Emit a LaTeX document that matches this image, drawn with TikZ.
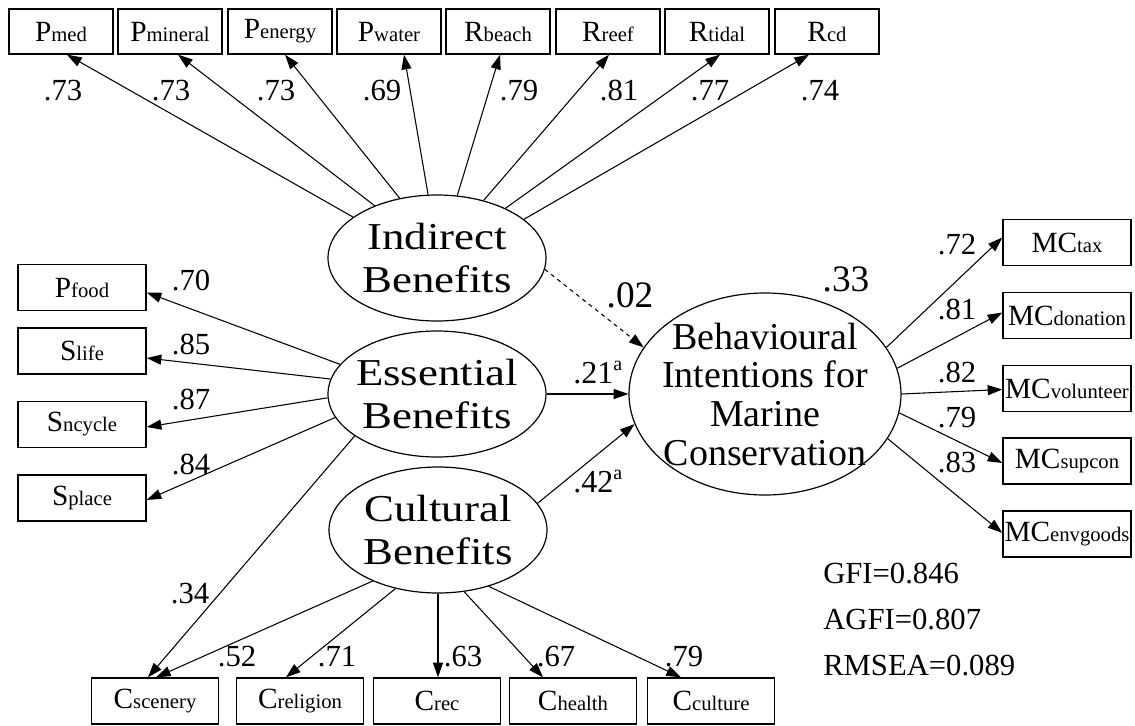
\documentclass[tikz,border=0pt]{standalone}
\usepackage{fontspec}
\setmainfont{Liberation Serif}
\newfontfamily\wideserif[FakeStretch=1.18]{Liberation Serif}
\usetikzlibrary{arrows.meta,calc,shapes.geometric}
\newcommand{\vlab}[2]{{\fontsize{22}{22}\selectfont #1}{\fontsize{15.5}{15.5}\selectfont #2}}
\begin{document}
\begin{tikzpicture}[x=0.75pt,y=-0.75pt,
  obsbox/.style={draw, line width=1pt, inner sep=0pt, minimum width=78pt, minimum height=33.75pt},
  sidebox/.style={obsbox, minimum width=96pt, minimum height=34.5pt},
  latent/.style={draw, ellipse, line width=0.9pt, inner sep=0pt, minimum width=163.5pt, minimum height=94.5pt},
  lattext/.style={align=center, inner sep=0pt, font=\wideserif\fontsize{28.5}{32.5}\selectfont},
  conn/.style={-{Triangle[length=11pt,width=7.5pt]}, line width=0.8pt},
  num/.style={inner sep=0pt, font=\fontsize{23}{23}\selectfont},
  bignum/.style={inner sep=0pt, font=\fontsize{28}{28}\selectfont},
  fitidx/.style={anchor=base west, inner sep=0pt, font=\fontsize{23}{23}\selectfont}]
\useasboundingbox (0,0) rectangle (1135,725);

% top indicators
\node[obsbox] (pmed) at (61,31.5) {\vlab{P}{med}};
\node[obsbox] (pmin) at (170,31.5) {\vlab{P}{mineral}};
\node[obsbox] (pen) at (280,31.5) {\vlab{P}{energy}};
\node[obsbox] (pwa) at (389,31.5) {\vlab{P}{water}};
\node[obsbox] (rbe) at (498,31.5) {\vlab{R}{beach}};
\node[obsbox] (rre) at (608,31.5) {\vlab{R}{reef}};
\node[obsbox] (rti) at (717,31.5) {\vlab{R}{tidal}};
\node[obsbox] (rcd) at (827,31.5) {\vlab{R}{cd}};

% left indicators
\node[sidebox] (pfo) at (82,287.5) {\vlab{P}{food}};
\node[sidebox] (sli) at (82,351) {\vlab{S}{life}};
\node[sidebox] (snc) at (82,424.5) {\vlab{S}{ncycle}};
\node[sidebox] (spl) at (82,498) {\vlab{S}{place}};

% right indicators
\node[sidebox] (mtax) at (1067,242.5) {\vlab{MC}{tax}};
\node[sidebox] (mdon) at (1067,315.5) {\vlab{MC}{donation}};
\node[sidebox] (mvol) at (1067,388.5) {\vlab{MC}{volunteer}};
\node[sidebox] (msup) at (1067,461) {\vlab{MC}{supcon}};
\node[sidebox] (menv) at (1067,534) {\vlab{MC}{envgoods}};

% bottom indicators
\node[sidebox, minimum width=95.25pt] (csc) at (155,701) {\vlab{C}{scenery}};
\node[sidebox, minimum width=95.25pt] (cre) at (300,701) {\vlab{C}{religion}};
\node[sidebox, minimum width=95.25pt] (crc) at (437,701) {\vlab{C}{rec}};
\node[sidebox, minimum width=95.25pt] (che) at (573,701) {\vlab{C}{health}};
\node[sidebox, minimum width=95.25pt] (ccu) at (711,701) {\vlab{C}{culture}};

% latent variables
\node[latent] (ib) at (437,258) {};
\node[lattext] (ibt) at (ib) {Indirect\\Benefits};
\node[latent] (es) at (437,394) {};
\node[lattext] (est) at (es) {Essential\\Benefits};
\node[latent] (cb) at (438,530) {};
\node[lattext] (cbt) at (cb) {Cultural\\Benefits};
\node[latent, minimum width=204pt, minimum height=151.5pt] (bb) at (765,394) {};
\node[lattext, font=\rmfamily\fontsize{28.5}{29}\selectfont] (bbt) at (bb) {Behavioural\\Intentions for\\Marine\\Conservation};

% indirect loadings
\draw[conn] (ib.154) -- ($(pmed.south)+(6,0)$);
\draw[conn] (ib.140) -- ($(pmin.south)+(8,0)$);
\draw[conn] (ib.122) -- ($(pen.south)+(5,0)$);
\draw[conn] (ib.98) -- ($(pwa.south)+(15,0)$);
\draw[conn] (ib.72) -- ($(rbe.south)+(2,0)$);
\draw[conn] (ib.51) -- ($(rre.south)+(1,0)$);
\draw[conn] (ib.36) -- ($(rti.south)+(3,0)$);
\draw[conn] (ib.24) -- ($(rcd.south)+(-18,0)$);

% essential loadings
\draw[conn] (es.163) -- ($(pfo.east)+(0,5)$);
\draw[conn] (es.172) -- ($(sli.east)+(0,7)$);
\draw[conn] (es.182) -- ($(snc.east)+(0,2.5)$);
\draw[conn] (es.193) -- ($(spl.east)+(0,2)$);
\draw[conn] (es.207) -- ($(csc.north)+(-7,0)$);

% cultural loadings
\draw[conn] (cb.218) -- ($(csc.north)+(1,0)$);
\draw[conn] (cb.234) -- ($(cre.north)+(-14,0)$);
\draw[conn] (cb.270) -- ($(crc.north)+(1,0)$);
\draw[conn] (cb.293) -- ($(che.north)+(-30,0)$);
\draw[conn] (cb.312) -- ($(ccu.north)+(-30,0)$);

% behavioural loadings
\draw[conn] (bb.21) -- ($(mtax.west)+(0,-5)$);
\draw[conn] (bb.11) -- ($(mdon.west)+(0,-3)$);
\draw[conn] (bb.0) -- ($(mvol.west)+(0,1)$);
\draw[conn] (bb.-8) -- ($(msup.west)+(0,2)$);
\draw[conn] (bb.-20) -- ($(menv.west)+(0,-1)$);

% structural paths
\draw[conn, dashed] (ib.-6) -- (bb.159);
\draw[conn] (es.east) -- (bb.west);
\draw[conn] (cb.15) -- (bb.193);

% loading labels
\node[num] (n1) at (63,90.5) {.73};
\node[num] (n2) at (171,90.5) {.73};
\node[num] (n3) at (276,90.5) {.73};
\node[num] (n4) at (382,90.5) {.69};
\node[num] (n5) at (519,90.5) {.79};
\node[num] (n6) at (619,90.5) {.81};
\node[num] (n7) at (710,90.5) {.77};
\node[num] (n8) at (820,90.5) {.74};

\node[num] (n9) at (191,281) {.70};
\node[num] (n10) at (191,345) {.85};
\node[num] (n11) at (191,400) {.87};
\node[num] (n12) at (191,465) {.84};
\node[num] (n13) at (190,594) {.34};

\node[num] (n14) at (237,657) {.52};
\node[num] (n15) at (337,657) {.71};
\node[num] (n16) at (463,657) {.63};
\node[num] (n17) at (556,657) {.67};
\node[num] (n18) at (684,657) {.79};

\node[num] (n19) at (957,245) {.72};
\node[num] (n20) at (957,310) {.81};
\node[num] (n21) at (957,373) {.82};
\node[num] (n22) at (957,418) {.79};
\node[num] (n23) at (957,463) {.83};

\node[bignum] (n24) at (846,279) {.33};
\node[bignum] (n25) at (630,295) {.02};
\node[anchor=base west, inner sep=0pt, font=\fontsize{24}{24}\selectfont] (n26) at (573,383) {.21\raisebox{9.5pt}{\fontsize{15}{15}\selectfont a}};
\node[anchor=base west, inner sep=0pt, font=\fontsize{24}{24}\selectfont] (n27) at (573,492) {.42\raisebox{9.5pt}{\fontsize{15}{15}\selectfont a}};

% fit indices
\node[fitidx] (gfi) at (823,583) {GFI=0.846};
\node[fitidx] (agfi) at (823,629) {AGFI=0.807};
\node[fitidx] (rmsea) at (823,675) {RMSEA=0.089};
\end{tikzpicture}
\end{document}
